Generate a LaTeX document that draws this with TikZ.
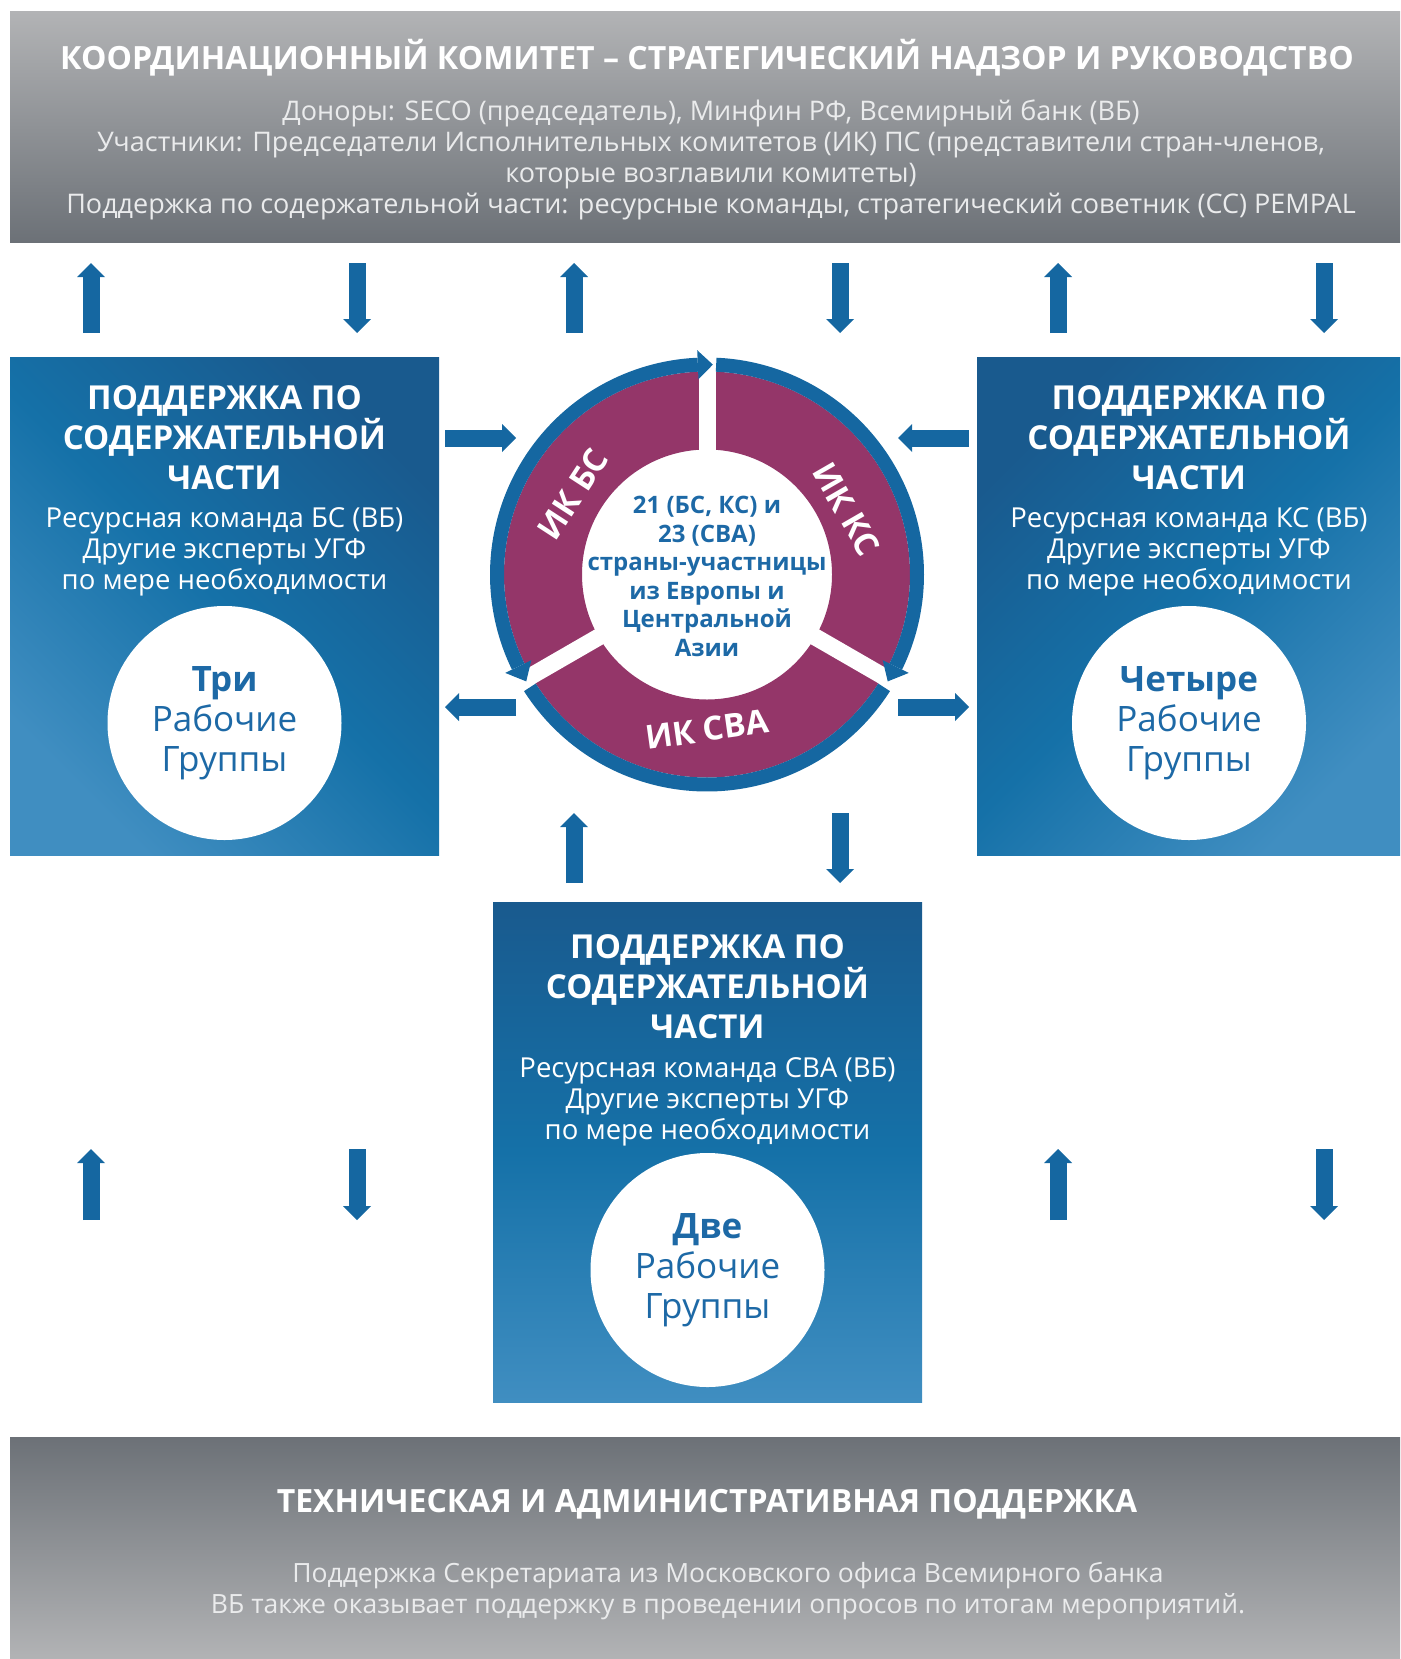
\documentclass[tikz,border=0pt]{standalone}
\usepackage{fontspec}
\setmainfont{Open Sans}
\usetikzlibrary{arrows.meta}

\definecolor{gLight}{RGB}{178,179,181}
\definecolor{gDark}{RGB}{108,113,119}
\definecolor{bDark}{RGB}{25,90,142}
\definecolor{bMid}{RGB}{21,113,168}
\definecolor{bLight}{RGB}{64,142,193}
\definecolor{arrBlue}{RGB}{21,103,161}
\definecolor{ringPurple}{RGB}{148,54,105}
\definecolor{txtBlue}{RGB}{29,105,166}
\definecolor{subGray}{RGB}{234,235,236}

\begin{document}
\begin{tikzpicture}[x=1pt,y=-1pt,
  panel/.style={rectangle, inner sep=0pt, draw=none},
  ttl/.style={font=\fontsize{32}{38}\selectfont\bfseries, text=white, align=center, inner sep=0pt},
  body/.style={font=\fontsize{27}{31}\selectfont, align=center, inner sep=0pt},
  boxtitle/.style={font=\fontsize{33}{40}\selectfont\bfseries, text=white, align=center, inner sep=0pt},
  boxbody/.style={font=\fontsize{27.5}{31}\selectfont, text=white, align=center, inner sep=0pt},
  wg/.style={circle, fill=white, minimum size=234pt, inner sep=0pt, align=center,
    font=\fontsize{35}{40}\selectfont, text=txtBlue},
  ringlbl/.style={font=\fontsize{33}{40}\selectfont\bfseries, text=white, inner sep=0pt},
  centertxt/.style={font=\fontsize{24}{28.6}\selectfont\bfseries, text=txtBlue, align=center, inner sep=0pt},
  barrow/.style={draw=arrBlue, line width=17pt, -{Triangle[width=28pt,length=14pt,line width=0pt]}},
]
\useasboundingbox (0,0) rectangle (1400,1659);

% ---------- top banner ----------
\node[panel, minimum width=1390pt, minimum height=230pt, top color=gLight, bottom color=gDark] (topbar) at (705,127) {};
\node[ttl] (toptitle) at (707,58) {КООРДИНАЦИОННЫЙ КОМИТЕТ – СТРАТЕГИЧЕСКИЙ НАДЗОР И РУКОВОДСТВО};
\node[body, text=subGray] (toptext) at (711,160) {Доноры: SECO (председатель), Минфин РФ, Всемирный банк (ВБ)\\
Участники: Председатели Исполнительных комитетов (ИК) ПС (представители стран-членов,\\
которые возглавили комитеты)\\
Поддержка по содержательной части: ресурсные команды, стратегический советник (СС) PEMPAL};

% ---------- bottom banner ----------
\node[panel, minimum width=1390pt, minimum height=222pt, top color=gDark, bottom color=gLight] (botbar) at (705,1548) {};
\node[ttl] (bottitle) at (707,1504) {ТЕХНИЧЕСКАЯ И АДМИНИСТРАТИВНАЯ ПОДДЕРЖКА};
\node[body, text=subGray, font=\fontsize{26.5}{31}\selectfont] (bottext) at (728,1591) {Поддержка Секретариата из Московского офиса Всемирного банка\\
ВБ также оказывает поддержку в проведении опросов по итогам мероприятий.};

% ---------- left box ----------
\node[panel, minimum width=429pt, minimum height=498pt, top color=bDark, bottom color=bLight, middle color=bMid, shading angle=-45] (lbox) at (224.5,606) {};
\node[boxtitle] (ltitle) at (224.5,438) {ПОДДЕРЖКА ПО\\СОДЕРЖАТЕЛЬНОЙ\\ЧАСТИ};
\node[boxbody] (lbody) at (224.5,552) {Ресурсная команда БС (ВБ)\\Другие эксперты УГФ\\по мере необходимости};
\node[wg] (lwg) at (224.5,723) {\textbf{Три}\\Рабочие\\Группы};

% ---------- right box ----------
\node[panel, minimum width=423pt, minimum height=498pt, top color=bDark, bottom color=bLight, middle color=bMid, shading angle=45] (rbox) at (1188.5,606) {};
\node[boxtitle] (rtitle) at (1189,438) {ПОДДЕРЖКА ПО\\СОДЕРЖАТЕЛЬНОЙ\\ЧАСТИ};
\node[boxbody] (rbody) at (1189,552) {Ресурсная команда КС (ВБ)\\Другие эксперты УГФ\\по мере необходимости};
\node[wg] (rwg) at (1189,723) {\textbf{Четыре}\\Рабочие\\Группы};

% ---------- bottom box ----------
\node[panel, minimum width=429pt, minimum height=500pt, top color=bDark, bottom color=bLight, middle color=bMid] (bbox) at (707.5,1152) {};
\node[boxtitle] (btitle) at (707.5,987) {ПОДДЕРЖКА ПО\\СОДЕРЖАТЕЛЬНОЙ\\ЧАСТИ};
\node[boxbody] (bbody) at (707.5,1102) {Ресурсная команда СВА (ВБ)\\Другие эксперты УГФ\\по мере необходимости};
\node[wg] (bwg) at (707.5,1270) {\textbf{Две}\\Рабочие\\Группы};

% ---------- central ring ----------
\begin{scope}[shift={(707,574.5)}, yscale=-1]
  \fill[ringPurple, even odd rule] (0,0) circle[radius=203] (0,0) circle[radius=125];
  \foreach \a in {90,210,330} \draw[white, line width=17pt] (\a:118) -- (\a:206);
  \draw[arrBlue, line width=14pt] (92.5:210) arc[start angle=92.5, end angle=206, radius=210];
  \draw[arrBlue, line width=14pt] (87.5:210) arc[start angle=87.5, end angle=-26, radius=210];
  \draw[arrBlue, line width=14pt] (212.5:210) arc[start angle=212.5, end angle=327.5, radius=210];
  \fill[arrBlue] (92.5:195.5) -- (92.5:224.5) -- (88.4:210) -- cycle;
  \fill[arrBlue] (206:195.5) -- (206:224.5) -- (210.6:210) -- cycle;
  \fill[arrBlue] (-26:195.5) -- (-26:224.5) -- (-30.6:210) -- cycle;
  \node[ringlbl, rotate=57] (ikbs) at (149:156) {ИК БС};
  \node[ringlbl, rotate=-60] (ikks) at (25:154) {ИК КС};
  \node[ringlbl, rotate=8] (iksva) at (270:155) {ИК СВА};
  \node[centertxt] (ctr) at (0,-2) {21 (БС, КС) и\\23 (СВА)\\страны-участницы\\из Европы и\\Центральной\\Азии};
\end{scope}

% ---------- block arrows ----------
\foreach \n/\xa/\ya/\xb/\yb in {
  t1/91/333/91/263, t2/357/263/357/333, t3/574/333/574/263,
  t4/840/263/840/333, t5/1058/333/1058/263, t6/1324/263/1324/333,
  m1/445/438/516/438, m2/969/438/898/438, m3/516/707/445/707, m4/898/707/969/707,
  c1/574/883/574/813, c2/840/813/840/883,
  b1/91/1220/91/1149, b2/357/1149/357/1220, b3/1058/1220/1058/1149, b4/1324/1149/1324/1220}
{
  \coordinate (\n s) at (\xa,\ya);
  \coordinate (\n e) at (\xb,\yb);
  \draw[barrow] (\n s) -- (\n e);
}
\end{tikzpicture}
\end{document}
